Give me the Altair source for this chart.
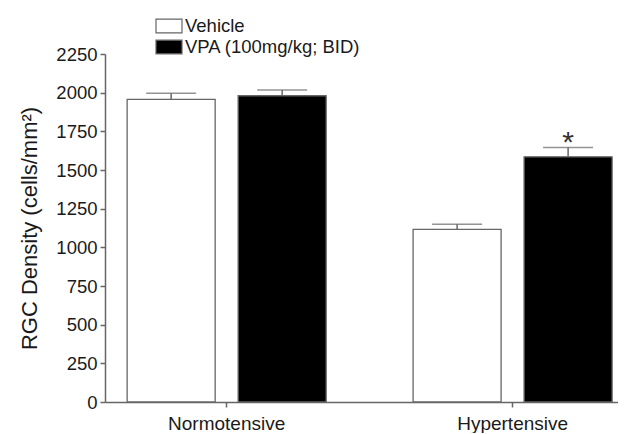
import altair as alt
import pandas as pd

groups = ["Normotensive", "Hypertensive"]
treatments = ["Vehicle", "VPA (100mg/kg; BID)"]
group_col = ["Normotensive", "Normotensive", "Hypertensive", "Hypertensive"]
treat_col = ["Vehicle", "VPA (100mg/kg; BID)", "Vehicle", "VPA (100mg/kg; BID)"]
means = [1957, 1980, 1116, 1585]
sems = [39, 37, 34, 61]
sig = ["", "", "", "*"]
y_ticks = [0, 250, 500, 750, 1000, 1250, 1500, 1750, 2000, 2250]

df = pd.DataFrame({
    "group": group_col,
    "treatment": treat_col,
    "mean": means,
    "upper": [m + s for m, s in zip(means, sems)],
    "sig": sig,
})

FONT = "Liberation Sans"
GRAY = "#666666"

x_enc = alt.X(
    "group:N",
    sort=groups,
    scale=alt.Scale(paddingInner=0.304, paddingOuter=0.049, align=0.79),
    axis=alt.Axis(title=None, labelAngle=0, labelFontSize=19, labelPadding=7),
)
xoff_enc = alt.XOffset(
    "treatment:N", sort=treatments, scale=alt.Scale(paddingInner=0.207, paddingOuter=0)
)
y_scale = alt.Scale(domain=[0, 2250], nice=False)
y_axis = alt.Axis(
    values=y_ticks,
    format="d",
    labelOverlap=False,
    title="RGC Density (cells/mm²)",
    titleFontSize=22,
    titleFontWeight="normal",
    titlePadding=14,
    labelFontSize=18.5,
    labelPadding=3,
)

base = alt.Chart(df)

bars = base.mark_bar(stroke=GRAY, strokeWidth=1.3).encode(
    x=x_enc,
    xOffset=xoff_enc,
    y=alt.Y("mean:Q", scale=y_scale, axis=y_axis),
    color=alt.Color(
        "treatment:N",
        sort=treatments,
        scale=alt.Scale(domain=treatments, range=["white", "black"]),
        legend=alt.Legend(
            title=None,
            orient="none",
            legendX=53,
            legendY=-39,
            symbolType="M-1.3,-0.68L1.3,-0.68L1.3,0.68L-1.3,0.68Z",
            symbolSize=400,
            symbolStrokeColor=GRAY,
            symbolStrokeWidth=1.2,
            symbolOpacity=1,
            labelFontSize=18.5,
            labelFont=FONT,
            labelColor="#1a1a1a",
            labelOffset=5,
            labelLimit=400,
            rowPadding=0,
            padding=0,
        ),
    ),
)

stems = base.mark_rule(color=GRAY, strokeWidth=1.5).encode(
    x=x_enc, xOffset=xoff_enc, y=alt.Y("mean:Q", scale=y_scale, axis=y_axis), y2="upper:Q"
)

caps = base.mark_tick(color=GRAY, thickness=1.5, size=50).encode(
    x=x_enc, xOffset=xoff_enc, y=alt.Y("upper:Q", scale=y_scale, axis=y_axis)
)

stars = base.mark_text(font=FONT, fontSize=30, color="#333333", baseline="alphabetic", dy=5).encode(
    x=x_enc, xOffset=xoff_enc, y=alt.Y("upper:Q", scale=y_scale, axis=y_axis), text="sig:N"
)

chart = (
    alt.layer(bars, stems, caps, stars)
    .properties(width=513, height=348, padding={"left": 10, "top": 7, "right": 0, "bottom": 0})
    .configure_view(stroke=None)
    .configure_axis(
        grid=False,
        domainColor=GRAY,
        domainWidth=1.5,
        tickColor=GRAY,
        tickWidth=1.5,
        tickSize=5,
        labelFont=FONT,
        titleFont=FONT,
        labelColor="#1a1a1a",
        titleColor="#1a1a1a",
    )
)

chart.save("out.html", embed_options={"renderer": "svg", "actions": False})
